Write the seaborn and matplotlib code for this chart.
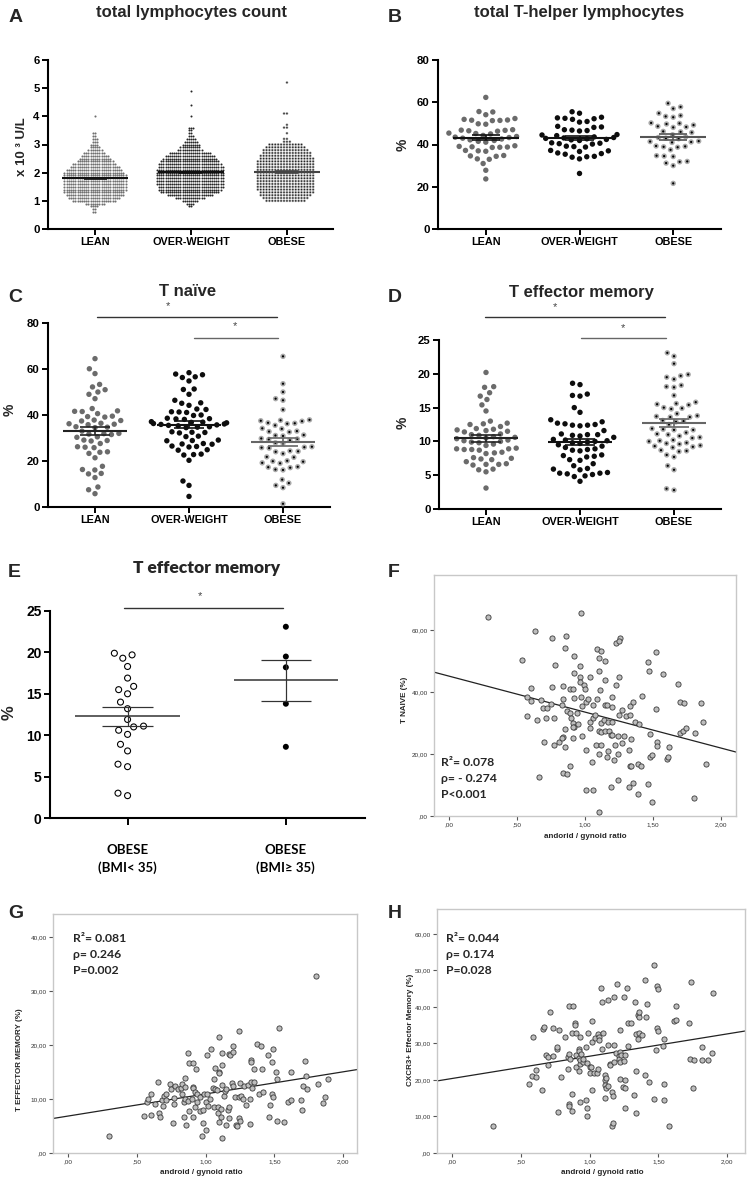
import warnings
import numpy as np
import pandas as pd
import matplotlib
matplotlib.use("Agg")
import matplotlib.pyplot as plt
import seaborn as sns

warnings.filterwarnings("ignore")

W, H = 747, 1180

GROUPS = ["LEAN", "OVER-WEIGHT", "OBESE"]
BMI_GROUPS = ["OBESE\n(BMI< 35)", "OBESE\n(BMI\u2265 35)"]

# ---- A: total lymphocytes (x10^3 U/L) - values sit on 0.1 rows, so keep row value + count
lym_lean_vals = [0.6, 0.7, 0.8, 0.9, 1.0, 1.1, 1.2, 1.3, 1.4, 1.5, 1.6, 1.7, 1.8, 1.9, 2.0,
                 2.1, 2.2, 2.3, 2.4, 2.5, 2.6, 2.7, 2.8, 2.9, 3.0, 3.1, 3.2, 3.3, 3.4, 4.0]
lym_lean_counts = [2, 2, 4, 9, 20, 24, 27, 28, 29, 29, 29, 29, 29, 29, 28,
                   26, 23, 20, 17, 15, 13, 10, 7, 5, 4, 3, 3, 2, 2, 1]
lym_ow_vals = [0.8, 0.9, 1.0, 1.1, 1.2, 1.3, 1.4, 1.5, 1.6, 1.7, 1.8, 1.9, 2.0, 2.1, 2.2, 2.3,
               2.4, 2.5, 2.6, 2.7, 2.8, 2.9, 3.0, 3.1, 3.2, 3.3, 3.4, 3.5, 3.6, 4.0, 4.4, 4.9]
lym_ow_counts = [2, 4, 8, 14, 22, 28, 30, 31, 32, 32, 32, 32, 32, 32, 31, 30,
                 28, 26, 24, 20, 12, 10, 9, 7, 5, 3, 2, 2, 3, 1, 1, 1]
lym_ob_vals = [1.0, 1.1, 1.2, 1.3, 1.4, 1.5, 1.6, 1.7, 1.8, 1.9, 2.0, 2.1, 2.2, 2.3, 2.4,
               2.5, 2.6, 2.7, 2.8, 2.9, 3.0, 3.1, 3.2, 3.4, 3.6, 3.7, 4.1, 5.2]
lym_ob_counts = [14, 16, 18, 19, 20, 20, 20, 20, 20, 20, 20, 20, 20, 20, 20,
                 19, 18, 17, 16, 14, 12, 3, 2, 1, 2, 1, 2, 1]

# ---- B: total T-helper lymphocytes (%)
th_lean = [62.3, 55.6, 55.4, 54.1, 52.3, 51.9, 51.6, 51.5, 51.4, 51.3, 49.8, 49.6, 47.0, 46.8,
           46.7, 46.5, 46.3, 45.4, 45.2, 45.0, 44.3, 43.8, 43.5, 43.3, 43.0, 42.6, 42.2, 41.9,
           41.5, 41.1, 39.4, 39.1, 38.9, 38.8, 38.7, 38.6, 37.2, 37.0, 36.8, 34.8, 34.6, 34.4,
           33.2, 33.0, 31.0, 27.8, 23.7]
th_ow = [55.5, 54.8, 52.9, 52.6, 52.4, 52.2, 51.9, 50.9, 50.6, 48.6, 48.3, 48.1, 47.0, 46.8,
         46.6, 46.4, 44.7, 44.5, 44.2, 43.6, 43.3, 43.1, 42.9, 42.7, 42.4, 42.2, 41.9, 40.8,
         40.6, 40.4, 40.2, 39.2, 39.0, 38.8, 37.2, 37.0, 36.7, 36.0, 35.7, 35.4, 34.4, 34.2,
         34.0, 33.2, 26.3]
th_ob = [59.5, 57.8, 57.0, 54.8, 53.7, 53.3, 52.9, 50.2, 50.0, 49.7, 49.2, 48.6, 48.3, 48.1,
         46.2, 46.0, 45.7, 44.6, 43.6, 43.3, 43.0, 42.7, 41.6, 41.4, 41.2, 41.0, 39.3, 39.1,
         38.9, 38.7, 37.5, 34.7, 34.5, 34.3, 32.0, 31.8, 31.2, 30.0, 21.6]

# ---- C: T naive (%)
tn_lean = [64.5, 60.1, 58.0, 53.3, 52.2, 51.0, 50.0, 49.0, 47.1, 42.8, 41.8, 41.6, 41.5, 40.6,
           39.5, 39.3, 39.1, 37.8, 37.6, 37.4, 36.4, 36.2, 36.0, 35.8, 34.9, 34.7, 34.5, 33.0,
           32.0, 31.9, 31.7, 31.5, 30.5, 30.3, 29.1, 28.9, 28.7, 27.6, 26.2, 26.0, 25.8, 24.0,
           23.8, 23.3, 21.4, 17.7, 16.3, 16.1, 14.6, 14.4, 12.8, 8.7, 7.5, 5.8]
tn_ow = [58.4, 57.8, 57.5, 56.6, 56.3, 54.8, 51.3, 51.1, 49.0, 46.4, 45.3, 45.1, 44.2, 42.6,
         42.4, 41.4, 41.3, 41.1, 40.0, 39.8, 38.6, 38.4, 38.3, 38.1, 37.1, 36.9, 36.8, 36.6,
         36.3, 36.1, 35.9, 35.7, 35.5, 35.3, 34.9, 34.7, 34.5, 32.7, 32.5, 32.4, 32.2, 30.8,
         30.6, 29.1, 28.9, 28.8, 27.6, 27.4, 27.3, 26.5, 26.3, 26.1, 24.9, 24.7, 23.0, 22.8,
         22.6, 20.3, 11.3, 9.4, 4.6]
tn_ob = [65.5, 53.6, 50.0, 47.1, 46.4, 42.3, 37.9, 37.7, 37.5, 37.3, 36.6, 36.4, 36.2, 35.5,
         34.2, 34.0, 33.0, 32.8, 32.6, 31.3, 31.1, 30.9, 29.8, 29.6, 29.4, 29.0, 27.9, 27.7,
         26.2, 26.0, 25.8, 25.6, 24.4, 24.2, 24.0, 23.2, 21.8, 21.6, 20.1, 19.9, 19.7, 19.2,
         19.0, 17.5, 17.3, 17.1, 16.3, 16.1, 11.9, 10.4, 9.4, 8.4, 1.4]

# ---- D: T effector memory (%)
tem_lean = [20.2, 18.1, 18.0, 17.2, 16.7, 16.2, 15.4, 14.5, 13.0, 12.7, 12.6, 12.5, 12.2, 11.9,
            11.8, 11.7, 11.6, 11.5, 11.4, 11.1, 11.0, 10.9, 10.7, 10.6, 10.5, 10.4, 10.2, 10.1,
            10.0, 9.9, 9.8, 9.6, 9.4, 9.0, 8.9, 8.9, 8.8, 8.8, 8.7, 8.4, 8.3, 8.2, 7.6, 7.5,
            7.4, 7.3, 7.0, 6.7, 6.6, 6.6, 6.5, 5.9, 5.8, 5.5, 3.1]
tem_ow = [18.6, 18.4, 17.0, 16.8, 16.7, 15.0, 14.3, 13.2, 12.9, 12.7, 12.6, 12.5, 12.4, 12.4,
          12.3, 11.6, 11.1, 11.0, 11.0, 10.9, 10.8, 10.6, 10.3, 10.2, 10.1, 10.0, 9.9, 9.8,
          9.7, 9.5, 9.3, 9.1, 8.9, 8.8, 8.7, 8.6, 8.0, 7.9, 7.8, 7.7, 7.3, 7.2, 6.7, 6.4, 6.0,
          5.9, 5.8, 5.4, 5.3, 5.3, 5.2, 5.1, 4.9, 4.8, 4.1]
tem_ob = [23.1, 22.6, 21.5, 19.9, 19.7, 19.5, 19.2, 18.3, 18.1, 18.0, 16.8, 15.8, 15.6, 15.5,
          15.4, 15.0, 14.9, 14.8, 14.1, 13.8, 13.7, 13.6, 13.6, 13.1, 13.0, 12.9, 12.5, 11.9,
          11.8, 11.7, 11.7, 11.3, 11.1, 11.0, 10.8, 10.6, 10.5, 10.2, 10.1, 10.0, 9.8, 9.7,
          9.6, 9.4, 9.3, 9.2, 9.1, 8.7, 8.6, 8.5, 8.0, 7.7, 6.4, 5.8, 3.0, 2.8]

# ---- E: T effector memory in obese split by BMI 35 (%)
tem_bmi_low = [19.9, 19.7, 19.3, 18.3, 16.9, 15.9, 15.5, 15.0, 14.0, 13.2, 11.9, 11.1, 10.6,
               11.0, 10.1, 8.9, 8.1, 6.5, 6.2, 2.7, 3.0]
tem_bmi_high = [23.1, 19.5, 18.2, 13.8, 8.6]

# ---- F: T naive vs android/gynoid ratio
agr_f = [0.29, 0.54, 0.63, 0.57, 0.60, 0.60, 0.57, 0.65, 0.66, 0.69,
         0.68, 0.70, 0.71, 0.72, 0.75, 0.76, 0.76, 0.78, 0.77, 0.77,
         0.81, 0.83, 0.84, 0.84, 0.85, 0.84, 0.83, 0.85, 0.84, 0.87,
         0.86, 0.85, 0.89, 0.87, 0.89, 0.91, 0.89, 0.90, 0.91, 0.92,
         0.91, 0.91, 0.92, 0.92, 0.92, 0.94, 0.95, 0.96, 0.96, 0.96,
         0.97, 0.98, 0.98, 0.97, 0.99, 1.00, 1.01, 1.01, 1.01, 1.02,
         1.04, 1.04, 1.04, 1.05, 1.06, 1.06, 1.07, 1.06, 1.08, 1.09,
         1.10, 1.09, 1.10, 1.10, 1.10, 1.10, 1.11, 1.12, 1.12, 1.12,
         1.12, 1.14, 1.15, 1.15, 1.15, 1.16, 1.15, 1.16, 1.17, 1.17,
         1.18, 1.19, 1.19, 1.20, 1.20, 1.20, 1.20, 1.21, 1.22, 1.23,
         1.23, 1.24, 1.24, 1.24, 1.25, 1.25, 1.26, 1.25, 1.27, 1.27,
         1.29, 1.30, 1.32, 1.32, 1.33, 1.33, 1.33, 1.34, 1.34, 1.35,
         1.35, 1.37, 1.39, 1.39, 1.40, 1.41, 1.42, 1.46, 1.46, 1.47,
         1.48, 1.48, 1.49, 1.49, 1.52, 1.52, 1.53, 1.53, 1.57, 1.60,
         1.61, 1.62, 1.68, 1.70, 1.70, 1.72, 1.73, 1.74, 1.80, 1.81,
         1.85, 1.87, 1.89]
tnaive_f = [64.1, 50.4, 59.8, 38.4, 41.4, 37.0, 32.3, 31.1, 12.5, 34.9,
            37.3, 23.8, 31.5, 34.9, 36.0, 41.6, 57.4, 48.8, 31.7, 23.0,
            23.9, 35.7, 41.9, 37.6, 28.2, 25.6, 25.3, 22.3, 13.9, 13.7,
            58.1, 54.2, 16.1, 33.8, 41.1, 41.0, 33.2, 31.6, 30.0, 28.7,
            25.1, 28.7, 51.6, 46.2, 38.0, 33.2, 29.8, 44.8, 48.4, 43.2,
            38.4, 35.5, 25.8, 65.4, 42.3, 41.0, 21.2, 8.4, 36.7, 37.8,
            44.8, 28.4, 30.3, 17.3, 35.8, 31.7, 32.7, 8.3, 22.9, 37.7,
            46.6, 53.9, 51.0, 27.5, 20.1, 1.3, 40.5, 53.3, 22.8, 30.0,
            27.0, 30.9, 44.0, 35.7, 50.0, 35.7, 27.4, 19.1, 21.0, 30.3,
            27.4, 26.0, 9.4, 38.4, 26.0, 35.2, 30.3, 17.9, 22.9, 42.2,
            55.7, 11.7, 25.7, 19.9, 32.5, 44.8, 57.4, 56.3, 34.1, 23.6,
            25.7, 32.3, 9.5, 21.2, 35.5, 32.5, 16.1, 16.1, 24.9, 36.8,
            10.8, 30.2, 16.8, 7.0, 29.6, 16.2, 38.7, 49.8, 10.3, 46.6,
            26.4, 19.1, 19.6, 4.5, 52.8, 34.4, 24.0, 22.6, 45.9, 18.5,
            19.1, 22.3, 42.4, 36.8, 26.6, 27.4, 36.5, 28.5, 5.7, 26.6,
            36.5, 30.3, 16.9]

# ---- G: T effector memory vs android/gynoid ratio
agr_g = [0.30, 0.55, 0.57, 0.58, 0.60, 0.60, 0.63, 0.65, 0.66, 0.67,
         0.69, 0.68, 0.70, 0.71, 0.71, 0.74, 0.75, 0.76, 0.77, 0.77,
         0.78, 0.80, 0.82, 0.83, 0.83, 0.84, 0.85, 0.84, 0.85, 0.85,
         0.86, 0.87, 0.87, 0.88, 0.88, 0.90, 0.91, 0.91, 0.91, 0.91,
         0.92, 0.92, 0.93, 0.94, 0.94, 0.96, 0.96, 0.97, 0.98, 0.98,
         0.99, 1.00, 1.00, 1.01, 1.01, 1.02, 1.03, 1.04, 1.05, 1.06,
         1.06, 1.07, 1.07, 1.08, 1.09, 1.09, 1.10, 1.10, 1.10, 1.10,
         1.11, 1.11, 1.12, 1.12, 1.12, 1.12, 1.13, 1.14, 1.15, 1.15,
         1.16, 1.17, 1.17, 1.17, 1.18, 1.19, 1.20, 1.20, 1.20, 1.21,
         1.22, 1.23, 1.24, 1.24, 1.24, 1.25, 1.25, 1.26, 1.27, 1.28,
         1.29, 1.31, 1.32, 1.32, 1.33, 1.33, 1.33, 1.34, 1.35, 1.35,
         1.37, 1.39, 1.40, 1.41, 1.42, 1.45, 1.46, 1.47, 1.48, 1.48,
         1.49, 1.49, 1.51, 1.52, 1.52, 1.53, 1.57, 1.60, 1.62, 1.62,
         1.69, 1.70, 1.71, 1.72, 1.73, 1.74, 1.80, 1.82, 1.85, 1.87,
         1.89]
tem_g = [3.2, 6.9, 9.4, 10.1, 10.9, 7.1, 9.0, 13.1, 7.4, 6.6,
         8.8, 9.8, 10.6, 10.9, 9.9, 12.7, 11.8, 5.5, 9.0, 10.2,
         12.5, 11.8, 12.1, 12.7, 11.0, 6.6, 13.9, 9.5, 10.1, 12.3,
         5.2, 9.7, 18.5, 16.7, 7.7, 10.1, 16.7, 12.3, 12.0, 6.6,
         11.3, 8.5, 15.5, 10.9, 9.5, 10.4, 7.7, 3.2, 5.5, 8.0,
         11.0, 4.3, 9.5, 18.1, 11.0, 8.8, 10.1, 19.3, 12.0, 8.6,
         13.8, 15.8, 11.8, 11.7, 7.4, 8.5, 21.5, 15.0, 5.8, 14.8,
         6.7, 8.1, 2.8, 16.4, 18.5, 12.6, 10.6, 11.5, 5.2, 11.8,
         8.0, 18.4, 6.4, 8.6, 18.2, 12.9, 12.4, 19.8, 18.7, 10.3,
         5.1, 5.0, 22.6, 6.4, 10.4, 12.9, 6.0, 10.6, 10.1, 12.5,
         8.9, 12.6, 10.1, 5.3, 13.1, 17.3, 16.9, 12.1, 15.5, 13.1,
         20.2, 11.0, 19.9, 15.5, 11.3, 18.2, 6.6, 8.9, 16.9, 11.0,
         19.2, 10.4, 15.0, 6.0, 13.8, 23.1, 5.8, 9.4, 9.8, 15.0,
         9.9, 8.0, 12.4, 17.1, 14.3, 11.8, 32.8, 12.7, 9.2, 10.4,
         13.7]

# ---- H: CXCR3+ effector memory vs android/gynoid ratio
agr_h = [0.30, 0.56, 0.58, 0.59, 0.61, 0.61, 0.65, 0.66, 0.67, 0.68,
         0.70, 0.70, 0.71, 0.73, 0.73, 0.76, 0.76, 0.77, 0.78, 0.79,
         0.82, 0.84, 0.84, 0.85, 0.85, 0.85, 0.85, 0.86, 0.87, 0.87,
         0.87, 0.88, 0.89, 0.89, 0.90, 0.90, 0.90, 0.92, 0.92, 0.92,
         0.92, 0.93, 0.93, 0.93, 0.93, 0.94, 0.95, 0.95, 0.97, 0.97,
         0.98, 0.98, 0.98, 0.99, 1.00, 1.00, 1.01, 1.02, 1.02, 1.02,
         1.03, 1.04, 1.05, 1.06, 1.06, 1.07, 1.07, 1.08, 1.09, 1.09,
         1.10, 1.11, 1.11, 1.11, 1.11, 1.12, 1.12, 1.13, 1.13, 1.13,
         1.15, 1.15, 1.16, 1.17, 1.16, 1.17, 1.18, 1.18, 1.18, 1.19,
         1.20, 1.21, 1.21, 1.22, 1.22, 1.22, 1.22, 1.23, 1.24, 1.25,
         1.25, 1.26, 1.26, 1.26, 1.26, 1.27, 1.28, 1.28, 1.30, 1.32,
         1.33, 1.34, 1.34, 1.34, 1.35, 1.35, 1.36, 1.36, 1.36, 1.38,
         1.40, 1.40, 1.41, 1.42, 1.43, 1.47, 1.48, 1.47, 1.49, 1.49,
         1.50, 1.50, 1.53, 1.54, 1.54, 1.54, 1.58, 1.61, 1.63, 1.63,
         1.72, 1.73, 1.74, 1.75, 1.76, 1.82, 1.82, 1.86, 1.89, 1.90]
cxcr3_h = [7.4, 18.8, 21.0, 31.8, 22.7, 20.9, 17.2, 33.9, 34.6, 26.8,
           26.3, 24.2, 38.5, 34.3, 26.5, 28.6, 29.1, 11.3, 33.7, 20.9,
           31.7, 23.1, 26.3, 27.1, 13.5, 12.8, 40.3, 25.7, 32.8, 16.1,
           11.5, 40.3, 35.5, 35.0, 23.6, 26.8, 32.9, 25.9, 22.4, 28.6,
           28.0, 14.0, 31.8, 24.5, 25.4, 27.0, 24.8, 25.7, 29.1, 14.6,
           24.7, 12.2, 10.1, 32.9, 23.6, 21.8, 23.6, 17.2, 30.5, 36.1,
           21.8, 31.4, 22.0, 32.5, 23.1, 31.8, 30.9, 45.1, 28.6, 41.3,
           32.8, 21.3, 20.1, 15.1, 18.6, 17.7, 20.4, 18.3, 41.9, 29.6,
           24.5, 24.1, 7.3, 8.1, 16.6, 15.6, 24.8, 42.8, 29.6, 27.5,
           46.2, 26.5, 25.6, 27.7, 33.7, 20.2, 24.8, 26.8, 18.1, 42.8,
           25.2, 17.7, 12.4, 20.1, 26.8, 45.1, 35.7, 29.4, 35.7, 15.8,
           41.3, 32.5, 22.5, 11.0, 31.1, 37.8, 37.3, 38.5, 32.9, 32.3,
           47.4, 21.3, 37.1, 40.7, 19.5, 14.9, 28.2, 51.5, 34.1, 45.6,
           44.9, 33.4, 29.3, 14.5, 31.1, 18.8, 7.4, 36.1, 36.4, 40.3,
           35.5, 25.6, 46.9, 17.9, 25.4, 29.1, 25.4, 25.4, 27.3, 43.7]

# regression lines as printed in F, G, H
fit_intercepts = [45.1, 6.85, 20.4]
fit_slopes = [-11.6, 4.1, 6.1]
fit_stats = [["R\u00b2= 0.078", "\u03c1= - 0.274", "P<0.001"],
             ["R\u00b2= 0.081", "\u03c1= 0.246", "P=0.002"],
             ["R\u00b2= 0.044", "\u03c1= 0.174", "P=0.028"]]


sns.set_style("ticks")
plt.rcParams["font.family"] = ["Liberation Sans", "DejaVu Sans"]
CALIBRI = ["Lato", "DejaVu Sans"]

fig = plt.figure(figsize=(W / 100, H / 100), dpi=100)


def add_ax(left, top, right, bottom):
    return fig.add_axes([left / W, 1 - bottom / H, (right - left) / W, (bottom - top) / H])


def ftext(x, y, s, **kw):
    kw.setdefault("ha", "center")
    kw.setdefault("va", "center")
    fig.text(x / W, 1 - y / H, s, **kw)


def dot(color, size, pitch):
    # an invisible edge widens the swarm spacing to `pitch` without changing the dot
    return dict(color=color, size=size, linewidth=pitch - size, edgecolor="none")


def swarms(ax, order, series, styles):
    # a style may be a list of layers; equal pitch gives identical swarm positions,
    # so a smaller dark dot on a bigger grey one makes the ringed GraphPad marker
    for g, vals, st in zip(order, series, styles):
        for layer in (st if isinstance(st, list) else [st]):
            sns.swarmplot(x=[g] * len(vals), y=list(vals), order=order, ax=ax, **layer)


def mean_sem(ax, series, colors, half=0.34, cap=0.16, lw=1.5):
    for i, (vals, c) in enumerate(zip(series, colors)):
        v = np.asarray(vals, float)
        m = v.mean()
        se = v.std(ddof=1) / np.sqrt(len(v))
        ax.hlines(m, i - half, i + half, color=c, lw=lw, zorder=6)
        ax.vlines(i, m - se, m + se, color=c, lw=lw * 0.8, zorder=6)
        ax.hlines([m - se, m + se], i - cap, i + cap, color=c, lw=lw * 0.8, zorder=6)


def prism_axes(ax, xlim, ylim, yticks, xsize=7.8, ysize=8.2):
    ax.set_xlim(*xlim)
    ax.set_ylim(*ylim)
    ax.set_yticks(yticks)
    ax.set_xlabel("")
    ax.set_ylabel("")
    sns.despine(ax=ax)
    for s in ("left", "bottom"):
        ax.spines[s].set_linewidth(1.5)
        ax.spines[s].set_color("black")
    ax.tick_params(length=4, width=1.4, pad=2, colors="black")
    ax.tick_params(axis="x", labelsize=xsize)
    ax.tick_params(axis="y", labelsize=ysize)
    for lab in ax.get_xticklabels() + ax.get_yticklabels():
        lab.set_fontweight("bold")


def sig_bar(ax, x0, x1, y, color, star_x, star_y):
    ax.plot([x0, x1], [y, y], color=color, lw=1.0, clip_on=False)
    ax.text(star_x, star_y, "*", ha="center", va="center", fontsize=8, color="#444", clip_on=False)


PITCH = 5.2
lean_st = dot("#6b6b6b", 3.9, PITCH)
ow_st = dot("#0d0d0d", 3.9, PITCH)
ob_st = [dot("#a9a9a9", 3.9, PITCH), dot("black", 1.6, PITCH)]

# ── A ──
lym_lean = np.repeat(lym_lean_vals, lym_lean_counts)
lym_ow = np.repeat(lym_ow_vals, lym_ow_counts)
lym_ob = np.repeat(lym_ob_vals, lym_ob_counts)
ax = add_ax(48, 60, 333, 229)
swarms(ax, GROUPS, [lym_lean, lym_ow, lym_ob],
       [dict(color="#707070", size=1.5, linewidth=0),
        dict(color="#262626", size=1.45, linewidth=0),
        [dot("#9c9c9c", 1.9, 2.0), dot("#222222", 1.0, 2.0)]])
mean_sem(ax, [lym_lean, lym_ow, lym_ob], ["#111", "#111", "#444"], half=0.34, cap=0.12)
prism_axes(ax, (-0.49, 2.48), (0, 6), range(0, 7))
ftext(9, 17, "A", fontsize=14, fontweight="bold", ha="left")
ftext(191, 12, "total lymphocytes count", fontsize=12, fontweight="bold")
ftext(22, 147, "x 10 \u00b3 U/L", fontsize=9.5, fontweight="bold", rotation=90)

# ── B ──
ax = add_ax(438, 60, 721, 229)
swarms(ax, GROUPS, [th_lean, th_ow, th_ob], [lean_st, ow_st, ob_st])
mean_sem(ax, [th_lean, th_ow, th_ob], ["#111", "#111", "#555"], half=0.35, cap=0.15)
prism_axes(ax, (-0.51, 2.51), (0, 80), range(0, 81, 20))
ftext(388, 17, "B", fontsize=14, fontweight="bold", ha="left")
ftext(579, 12, "total T-helper lymphocytes", fontsize=12, fontweight="bold")
ftext(403, 145, "%", fontsize=10, fontweight="bold", rotation=90)

# ── C ──
ax = add_ax(48, 323, 330, 507)
swarms(ax, GROUPS, [tn_lean, tn_ow, tn_ob], [lean_st, ow_st, ob_st])
mean_sem(ax, [tn_lean, tn_ow, tn_ob], ["#222", "#111", "#666"], half=0.34, cap=0.16)
prism_axes(ax, (-0.5, 2.5), (0, 80), range(0, 81, 20))
sig_bar(ax, 0.02, 1.94, 82.6, "#333", 0.78, 87.5)
sig_bar(ax, 1.05, 1.95, 73.5, "#666", 1.49, 78.5)
ftext(8, 297, "C", fontsize=14, fontweight="bold", ha="left")
ftext(188, 292, "T naïve", fontsize=12, fontweight="bold")
ftext(10, 410, "%", fontsize=10, fontweight="bold", rotation=90)

# ── D ──
ax = add_ax(439, 340, 721, 509)
swarms(ax, GROUPS, [tem_lean, tem_ow, tem_ob], [lean_st, ow_st, ob_st])
mean_sem(ax, [tem_lean, tem_ow, tem_ob], ["#222", "#111", "#666"], half=0.34, cap=0.16)
prism_axes(ax, (-0.5, 2.5), (0, 25), range(0, 26, 5))
sig_bar(ax, -0.01, 1.90, 28.4, "#333", 0.73, 29.9)
sig_bar(ax, 1.01, 1.91, 25.3, "#666", 1.46, 26.8)
ftext(388, 297, "D", fontsize=14, fontweight="bold", ha="left")
ftext(581, 292, "T effector memory", fontsize=12, fontweight="bold")
ftext(403, 423, "%", fontsize=10, fontweight="bold", rotation=90)

# ── E ──
E_PITCH = 6.8
ax = add_ax(50, 611, 365, 818)
swarms(ax, BMI_GROUPS, [tem_bmi_low, tem_bmi_high],
       [[dot("black", 5.1, E_PITCH), dot("white", 3.5, E_PITCH)],
        dot("black", 4.3, E_PITCH)])
mean_sem(ax, [tem_bmi_low, tem_bmi_high], ["#333", "#333"], half=0.33, cap=0.16, lw=1.1)
prism_axes(ax, (-0.49, 1.5), (0, 25), range(0, 26, 5), ysize=10)
ax.set_xticks([0, 1])
ax.set_xticklabels(BMI_GROUPS, fontfamily=CALIBRI, fontweight="bold", fontsize=9.5,
                   linespacing=1.45)
ax.tick_params(axis="x", length=5, pad=14)
for lab in ax.get_yticklabels():
    lab.set_fontweight("bold")
sig_bar(ax, -0.02, 0.98, 25.36, "#333", 0.46, 26.8)
ftext(8, 573, "E", fontsize=14, fontweight="bold", ha="left")
ftext(207, 568, "T effector memory", fontsize=12.5, fontweight="heavy", family=CALIBRI)
ftext(9, 713, "%", fontsize=12, fontweight="bold", rotation=90)

# ── F, G, H: SPSS-style scatter with linear fit ──
scatter_specs = [
    dict(box=(434, 575, 736, 816), x=agr_f, y=tnaive_f, xlim=(-0.11, 2.11), ylim=(0, 77.7),
         yticks=[0, 20, 40, 60], ylabels=[",00", "20,00", "40,00", "60,00"],
         letter=(388, 573), xlab=("andorid / gynoid ratio", 585, 837),
         ylab=("T NAIVE (%)", 405, 700), stat_xy=(441, 763)),
    dict(box=(53, 914, 357, 1153), x=agr_g, y=tem_g, xlim=(-0.11, 2.10), ylim=(0, 44.3),
         yticks=[0, 10, 20, 30, 40], ylabels=[",00", "10,00", "20,00", "30,00", "40,00"],
         letter=(8, 913), xlab=("android / gynoid ratio", 201, 1173),
         ylab=("T EFFECTOR MEMORY (%)", 20, 1060), stat_xy=(73, 938)),
    dict(box=(437, 909, 745, 1153), x=agr_h, y=cxcr3_h, xlim=(-0.11, 2.13), ylim=(0, 66.8),
         yticks=[0, 10, 20, 30, 40, 50, 60],
         ylabels=[",00", "10,00", "20,00", "30,00", "40,00", "50,00", "60,00"],
         letter=(388, 913), xlab=("android / gynoid ratio", 602, 1173),
         ylab=("CXCR3+ Effector Memory (%)", 411, 1030), stat_xy=(446, 939)),
]

for spec, letter, b0, m, stats in zip(scatter_specs, ["F", "G", "H"], fit_intercepts,
                                      fit_slopes, fit_stats):
    ax = add_ax(*spec["box"])
    sns.scatterplot(x=spec["x"], y=spec["y"], ax=ax, s=14, color="#bdbdbd",
                    edgecolor="#3a3a3a", linewidth=0.6, zorder=3)
    ax.axline((0, b0), slope=m, color="#222", lw=0.9, zorder=2)
    ax.set_xlim(*spec["xlim"])
    ax.set_ylim(*spec["ylim"])
    ax.set_xticks([0, 0.5, 1, 1.5, 2])
    ax.set_xticklabels([",00", ",50", "1,00", "1,50", "2,00"])
    ax.set_yticks(spec["yticks"])
    ax.set_yticklabels(spec["ylabels"])
    for s in ax.spines.values():
        s.set_visible(True)
        s.set_color("#c8c8c8")
        s.set_linewidth(1.0)
    ax.tick_params(length=3, width=0.8, color="#555", labelsize=4.6, labelcolor="#333", pad=1.5)
    ftext(*spec["letter"], letter, fontsize=14, fontweight="bold", ha="left")
    t, x, y = spec["xlab"]
    ftext(x, y, t, fontsize=5.8, fontweight="bold")
    t, x, y = spec["ylab"]
    ftext(x, y, t, fontsize=5.8, fontweight="bold", rotation=90)
    sx, sy = spec["stat_xy"]
    for k, line in enumerate(stats):
        ftext(sx, sy + 16 * k, line, fontsize=8.8, fontweight="bold", ha="left", family=CALIBRI)

fig.savefig("out.png", dpi=100)
